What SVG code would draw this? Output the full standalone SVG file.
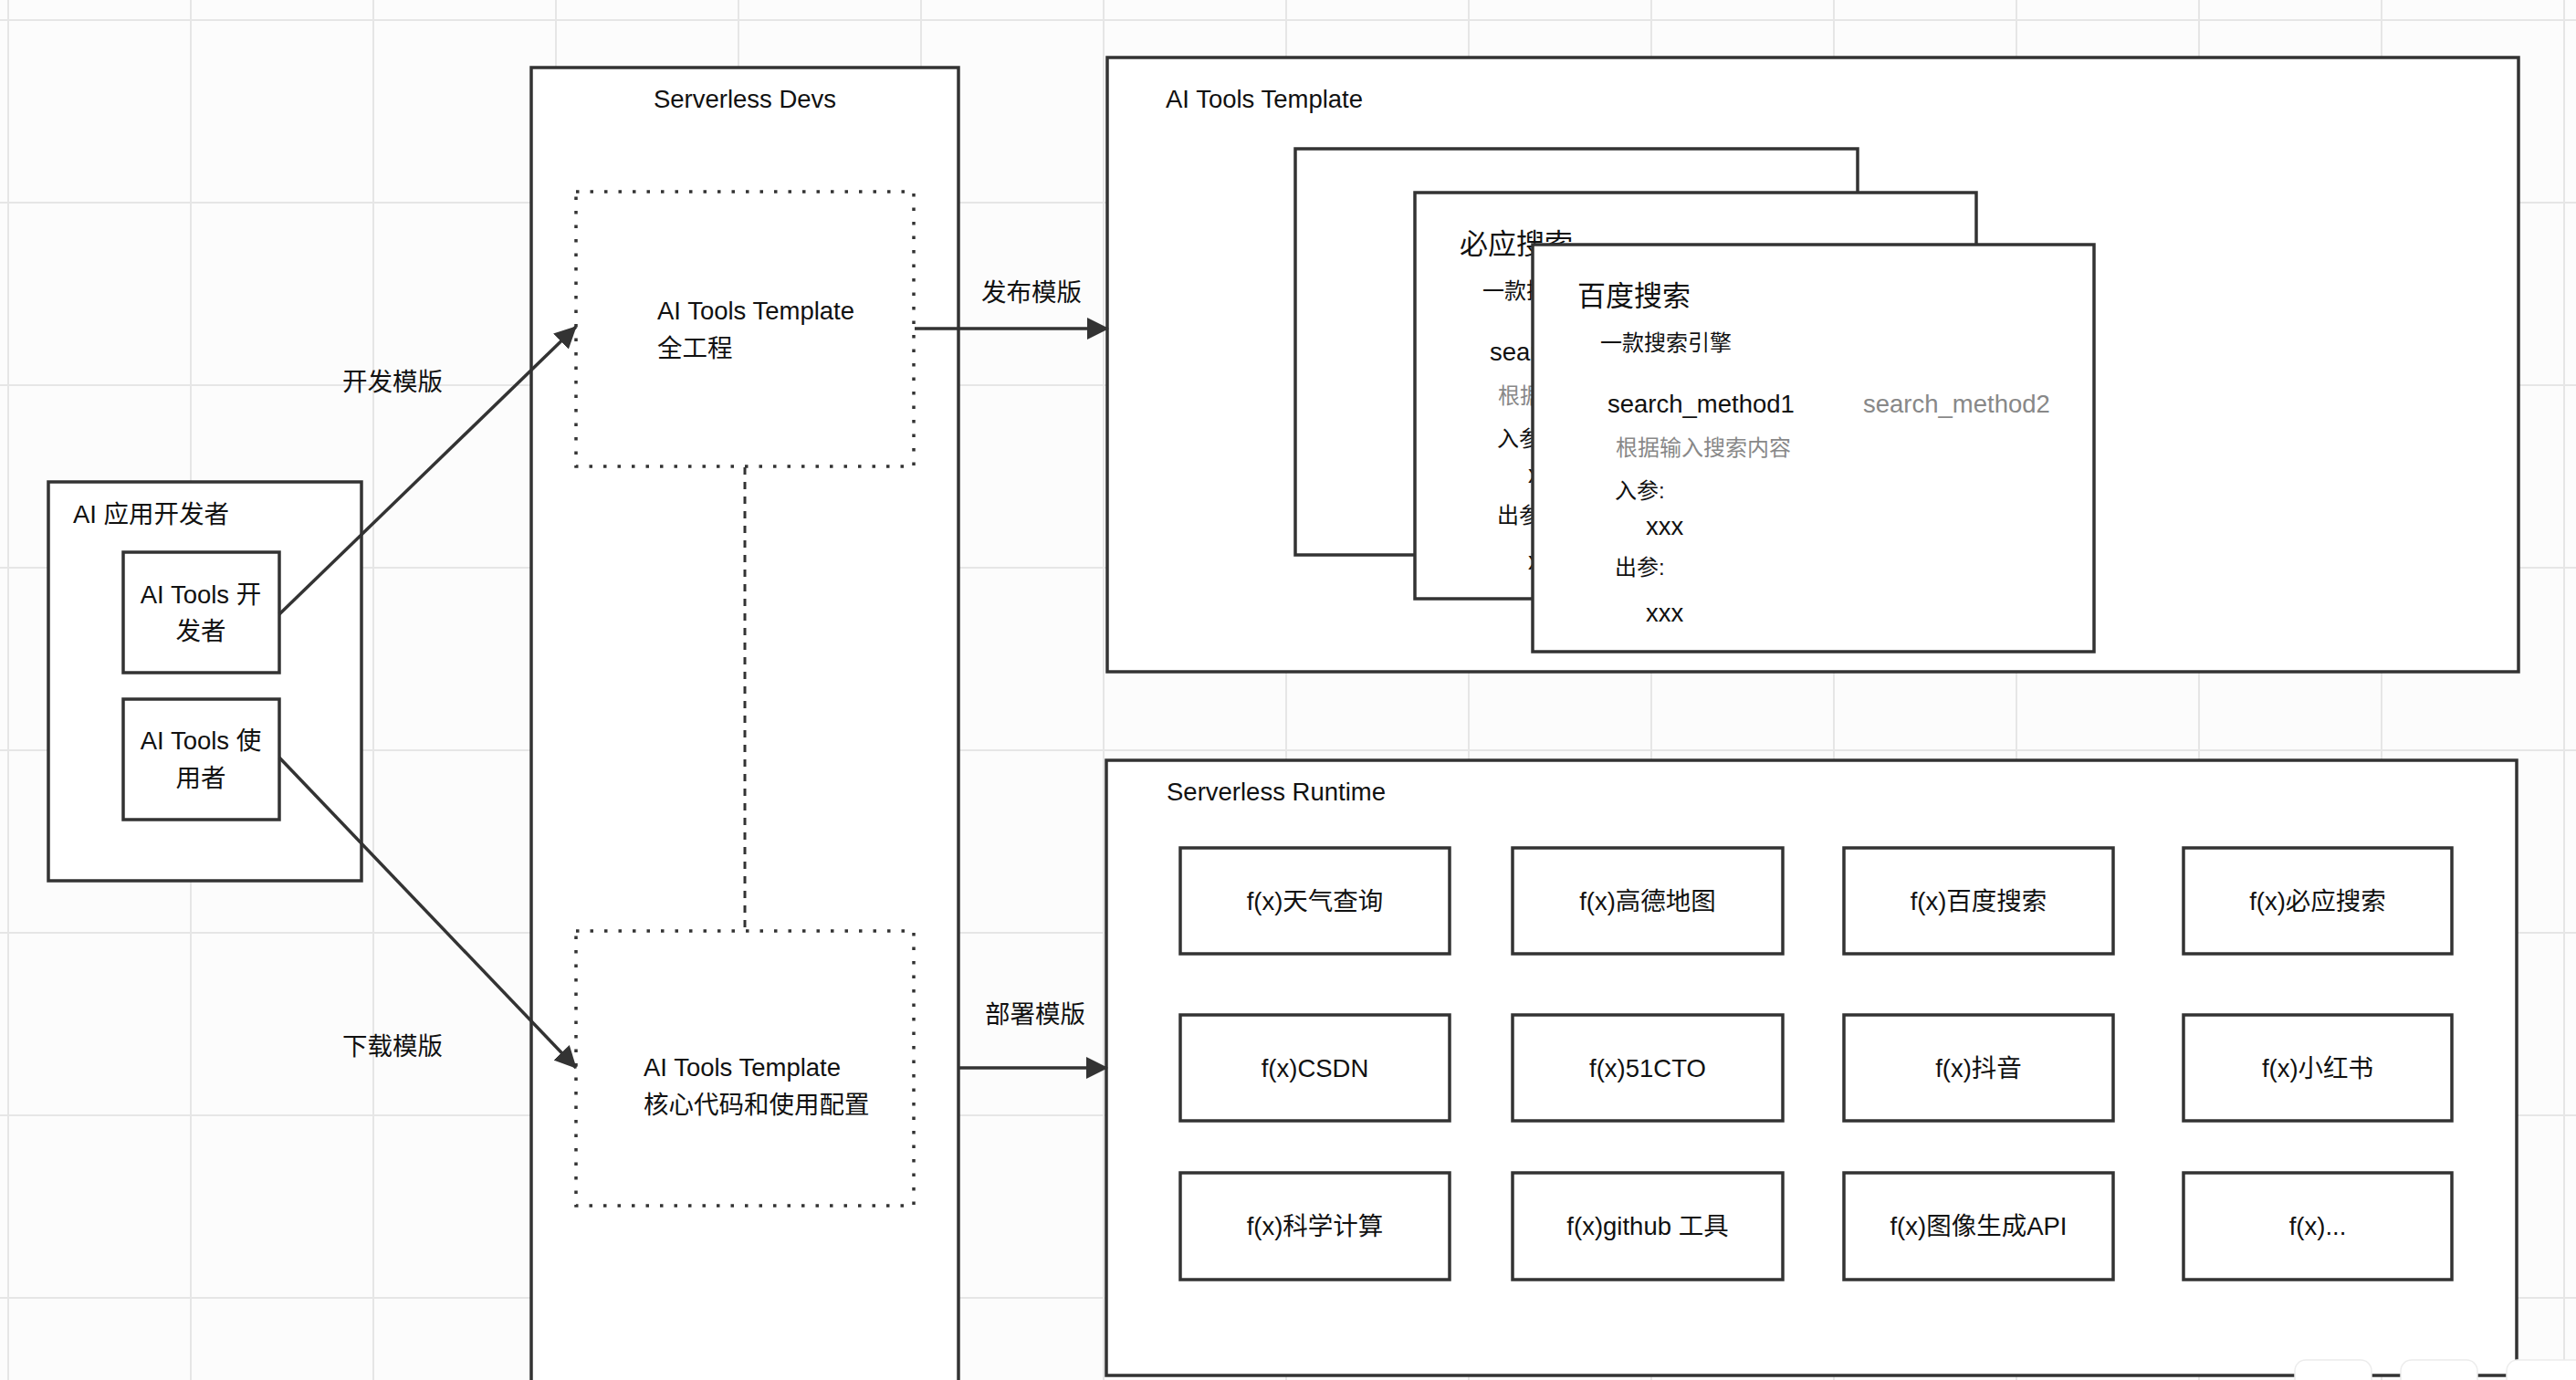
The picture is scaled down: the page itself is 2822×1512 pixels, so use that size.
<svg xmlns="http://www.w3.org/2000/svg" width="2822" height="1512" viewBox="0 0 2822 1512">
<style>
  text { font-family: "Liberation Sans", "Noto Sans CJK SC", sans-serif; fill: #111; font-size: 27.5px; }
  .box { fill: #fff; stroke: #333; stroke-width: 3.5; }
  .card { fill: #fff; stroke: #333; stroke-width: 3.5; }
  .dot { fill: none; stroke: #333; stroke-width: 3.5; stroke-dasharray: 3.5 12; }
  .fn { fill: #fff; stroke: #333; stroke-width: 3.5; }
  .mid { text-anchor: middle; }
  .edge { fill: none; stroke: #333; stroke-width: 3.5; }
  .head { font-size: 31px; }
  .sm { font-size: 24px; }
  .gray { fill: #888; }
  .m { font-size: 27.5px; }
</style>
<defs>
  <pattern id="grid" x="8" y="21" width="200" height="200" patternUnits="userSpaceOnUse">
    <path d="M1 0V200M0 1H200" stroke="#e6e6e6" stroke-width="2" fill="none"/>
  </pattern>
  <marker id="arr" viewBox="0 0 24 24" refX="23" refY="12" markerWidth="24" markerHeight="24" markerUnits="userSpaceOnUse" orient="auto">
    <path d="M0,0 L24,12 L0,24 Z" fill="#333"/>
  </marker>
</defs>
<rect x="0" y="0" width="2822" height="1512" fill="#fcfcfc"/>
<rect x="0" y="0" width="2822" height="1512" fill="url(#grid)"/>

<g id="serverless-devs">
  <rect class="box" x="582" y="74" width="468" height="1460"/>
  <text class="mid" x="816" y="118">Serverless Devs</text>
</g>

<g id="ai-app-developer">
  <rect class="box" x="53" y="528" width="343" height="437"/>
  <text x="80" y="573">AI 应用开发者</text>
</g>

<g id="ai-tools-developer">
  <rect class="box" x="135" y="605" width="171" height="132"/>
  <text class="mid" x="220" y="661">AI Tools 开</text>
  <text class="mid" x="220" y="701">发者</text>
</g>

<g id="ai-tools-user">
  <rect class="box" x="135" y="766" width="171" height="132"/>
  <text class="mid" x="220" y="821">AI Tools 使</text>
  <text class="mid" x="220" y="862">用者</text>
</g>

<g id="template-full">
  <rect class="dot" x="631" y="210" width="370" height="301"/>
  <text x="720" y="350">AI Tools Template</text>
  <text x="720" y="391">全工程</text>
</g>

<g id="template-core">
  <rect class="dot" x="631" y="1020" width="370" height="301"/>
  <text x="705" y="1179">AI Tools Template</text>
  <text x="705" y="1220">核心代码和使用配置</text>
</g>

<g id="ai-tools-template">
  <rect class="box" x="1213" y="63" width="1546" height="673"/>
  <text x="1277" y="118">AI Tools Template</text>
</g>

<g id="card-back">
  <rect class="card" x="1419" y="163" width="616" height="445"/>
</g>

<g id="card-bing">
  <rect class="card" x="1550" y="211" width="615" height="445"/>
  <text class="head" x="1599" y="278">必应搜索</text>
  <text class="sm" x="1624" y="327">一款搜</text>
  <text class="m" x="1632" y="395">sear</text>
  <text class="sm gray" x="1641" y="442">根据</text>
  <text class="sm" x="1640" y="489">入参</text>
  <text x="1674" y="529">x</text>
  <text class="sm" x="1640" y="573">出参</text>
  <text x="1674" y="624">x</text>
</g>

<g id="card-baidu">
  <rect class="card" x="1679" y="268" width="615" height="446"/>
  <text class="head" x="1728" y="335">百度搜索</text>
  <text class="sm" x="1753" y="384">一款搜索引擎</text>
  <text class="m" x="1761" y="452">search_method1</text>
  <text class="m gray" x="2041" y="452">search_method2</text>
  <text class="sm gray" x="1770" y="499">根据输入搜索内容</text>
  <text class="sm" x="1769" y="546">入参:</text>
  <text x="1803" y="586">xxx</text>
  <text class="sm" x="1769" y="630">出参:</text>
  <text x="1803" y="681">xxx</text>
</g>

<g id="serverless-runtime">
  <rect class="box" x="1212" y="833" width="1545" height="674"/>
  <text x="1278" y="877">Serverless Runtime</text>
</g>

<g id="fn-weather"><rect class="fn" x="1293" y="929" width="295" height="116"/><text class="mid" x="1440.5" y="997">f(x)天气查询</text></g>
<g id="fn-amap"><rect class="fn" x="1657" y="929" width="296" height="116"/><text class="mid" x="1805" y="997">f(x)高德地图</text></g>
<g id="fn-baidu"><rect class="fn" x="2020" y="929" width="295" height="116"/><text class="mid" x="2167.5" y="997">f(x)百度搜索</text></g>
<g id="fn-bing"><rect class="fn" x="2392" y="929" width="294" height="116"/><text class="mid" x="2539" y="997">f(x)必应搜索</text></g>

<g id="fn-csdn"><rect class="fn" x="1293" y="1112" width="295" height="116"/><text class="mid" x="1440.5" y="1180">f(x)CSDN</text></g>
<g id="fn-51cto"><rect class="fn" x="1657" y="1112" width="296" height="116"/><text class="mid" x="1805" y="1180">f(x)51CTO</text></g>
<g id="fn-douyin"><rect class="fn" x="2020" y="1112" width="295" height="116"/><text class="mid" x="2167.5" y="1180">f(x)抖音</text></g>
<g id="fn-xhs"><rect class="fn" x="2392" y="1112" width="294" height="116"/><text class="mid" x="2539" y="1180">f(x)小红书</text></g>

<g id="fn-science"><rect class="fn" x="1293" y="1285" width="295" height="117"/><text class="mid" x="1440.5" y="1353">f(x)科学计算</text></g>
<g id="fn-github"><rect class="fn" x="1657" y="1285" width="296" height="117"/><text class="mid" x="1805" y="1353">f(x)github 工具</text></g>
<g id="fn-image"><rect class="fn" x="2020" y="1285" width="295" height="117"/><text class="mid" x="2167.5" y="1353">f(x)图像生成API</text></g>
<g id="fn-more"><rect class="fn" x="2392" y="1285" width="294" height="117"/><text class="mid" x="2539" y="1353">f(x)...</text></g>

<g id="connectors">
  <line class="edge" x1="306" y1="673" x2="631" y2="358" marker-end="url(#arr)"/>
  <line class="edge" x1="306" y1="830" x2="631" y2="1170" marker-end="url(#arr)"/>
  <line class="edge" x1="1002" y1="360" x2="1214" y2="360" marker-end="url(#arr)"/>
  <line class="edge" x1="1051" y1="1170" x2="1213" y2="1170" marker-end="url(#arr)"/>
  <line x1="816" y1="512" x2="816" y2="1019" stroke="#333" stroke-width="3" stroke-dasharray="8 8"/>
  <text x="375" y="428">开发模版</text>
  <text x="375" y="1156">下载模版</text>
  <text x="1075" y="330">发布模版</text>
  <text x="1079" y="1121">部署模版</text>
</g>

<g id="overlay">
  <rect x="2514" y="1490" width="84" height="40" rx="12" fill="#fff" stroke="#ececec" stroke-width="1.5"/>
  <rect x="2630" y="1490" width="84" height="40" rx="12" fill="#fff" stroke="#ececec" stroke-width="1.5"/>
  <rect x="2746" y="1490" width="100" height="40" rx="12" fill="#fff" stroke="#ececec" stroke-width="1.5"/>
</g>
</svg>
